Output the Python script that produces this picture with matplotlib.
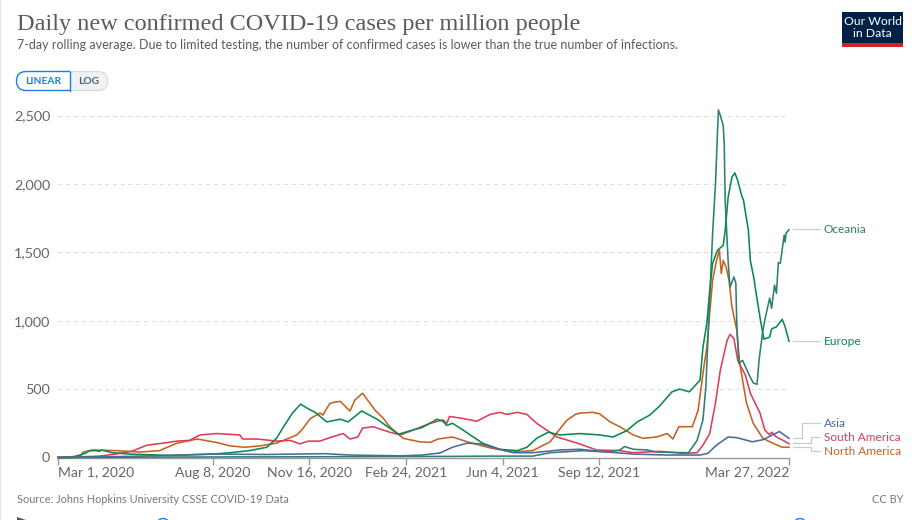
import matplotlib
matplotlib.use("Agg")
import matplotlib.pyplot as plt
import pandas as pd
from matplotlib.patches import FancyBboxPatch, Rectangle, Circle, Polygon

# ---- data (day offset from 2020-03-01, cases per million) ----
START = pd.Timestamp("2020-03-01")

na_days = [0,23,26,36,61,85,105,123,144,164,178,193,209,226,247,252,261,271,274,281,286,292,299,302,307,315,328,336,343,357,374,385,393,408,423,447,470,491,509,517,526,535,540,553,560,571,581,595,605,619,630,636,642,656,662,667,671,674,677,681,684,686,688,691,694,697,702,705,712,719,729,739,749,756]
na_vals = [0,10,40,55,50,40,50,105,135,110,85,75,85,105,165,200,285,325,310,395,405,410,360,340,420,470,345,290,225,140,115,110,135,150,115,70,40,50,115,190,270,315,325,330,320,260,225,165,140,150,175,135,225,225,345,615,805,1055,1295,1440,1515,1345,1440,1390,1295,1100,930,690,400,250,140,105,75,75]

sa_days = [0,43,59,76,92,109,123,136,147,164,188,191,206,226,240,250,259,271,281,295,302,310,315,326,343,354,367,385,398,402,405,419,433,447,457,464,475,485,495,516,537,557,581,595,623,646,661,667,674,680,685,692,695,699,703,711,716,726,731,736,738,743,750,756]
sa_vals = [0,10,25,45,90,105,120,125,165,175,165,135,135,120,125,100,120,120,145,175,135,150,215,225,185,165,200,250,275,250,300,285,265,315,330,315,330,315,250,150,105,55,50,35,45,30,35,90,175,400,640,855,900,870,710,600,470,325,200,165,185,150,125,100]

asia_days = [0,74,160,216,276,302,354,377,395,408,423,437,454,471,491,519,540,560,595,630,664,672,681,693,702,718,729,739,746,751,756]
asia_vals = [0,8,25,22,28,18,12,18,33,75,105,100,65,35,35,55,60,45,25,18,18,30,90,150,145,115,130,165,190,165,140]

oc_days = [0,95,250,405,447,491,509,543,568,581,586,595,609,619,652,661,667,670,673,677,680,682,683,685,688,689,690,693,695,699,701,702,704,708,714,719,723,725,729,731,736,738,741,743,745,747,751,752,753,756]
oc_vals = [0,3,5,8,10,10,35,50,40,55,80,60,55,40,35,125,275,515,1000,1640,2005,2370,2540,2500,2425,2295,1880,1440,1245,1320,1275,980,690,710,615,545,535,710,930,1005,1165,1090,1260,1200,1425,1420,1625,1575,1640,1665]

eu_days = [0,14,28,33,39,43,45,56,74,116,160,178,198,216,226,233,243,251,259,266,278,292,300,314,330,343,352,364,377,392,398,402,408,419,439,457,475,485,495,507,519,540,560,574,588,599,612,622,635,643,653,664,667,671,674,677,682,688,690,693,697,700,703,707,709,711,714,716,720,721,726,730,736,738,743,749,752,756]
eu_vals = [0,0,30,50,50,45,55,35,25,15,25,35,50,75,140,222,330,390,355,330,260,280,260,340,280,215,170,195,220,280,265,235,250,200,105,60,50,75,140,185,165,175,165,150,195,260,310,375,480,500,480,565,805,980,1220,1420,1515,1550,1660,1900,2050,2080,2025,1915,1880,1790,1660,1440,1300,1245,1025,865,880,940,955,1010,955,850]

y_ticks = [0, 500, 1000, 1500, 2000, 2500]
x_tick_labels = ["Mar 1, 2020", "Aug 8, 2020", "Nov 16, 2020", "Feb 24, 2021", "Jun 4, 2021", "Sep 12, 2021", "Mar 27, 2022"]

C_NA, C_SA, C_ASIA, C_OC, C_EU = "#c8611f", "#dc3e5a", "#4c6a9c", "#2f7f72", "#0a8a4d"
C_TXT = "#666666"
SANS = "Lato"

W, H = 918, 520
fig = plt.figure(figsize=(W/100, H/100), dpi=100, facecolor="white")

# chart axes placed by pixel box
L, R, T, B = 58, 789, 115.5, 457.5
ax = fig.add_axes([L/W, 1-B/H, (R-L)/W, (B-T)/H])
ax.set_xlim(0, 756)
ax.set_ylim(0, 2500)
ax.patch.set_alpha(0)
for s in ["top", "right", "left"]:
    ax.spines[s].set_visible(False)
ax.spines["bottom"].set_color("#999999")
ax.spines["bottom"].set_linewidth(1.0)

ax.set_yticks(y_ticks)
ax.set_yticklabels([f"{v:,}" for v in y_ticks], fontsize=10.4, color=C_TXT, family=SANS)
ax.tick_params(axis="y", length=0, pad=5.5)
for v in y_ticks[1:]:
    ax.axhline(v, color="#dddddd", lw=0.8, ls=(0, (3.5, 3.5)), zorder=1)

x_pos = [(pd.to_datetime(s) - START).days for s in x_tick_labels]
ax.set_xticks(x_pos)
ax.set_xticklabels(x_tick_labels, fontsize=10.1, color=C_TXT, family=SANS)
ax.tick_params(axis="x", length=5, width=1, color="#999999", pad=1.5)
labs = ax.get_xticklabels()
labs[0].set_ha("left")
labs[-1].set_ha("right")

for d, v, c in [(na_days, na_vals, C_NA), (sa_days, sa_vals, C_SA), (oc_days, oc_vals, C_OC),
                (eu_days, eu_vals, C_EU), (asia_days, asia_vals, C_ASIA)]:
    ax.plot(d, v, color=c, lw=1.15, clip_on=False, zorder=3, solid_joinstyle="round")

# overlay in pixel coordinates for page furniture
ov = fig.add_axes([0, 0, 1, 1])
ov.set_xlim(0, W)
ov.set_ylim(H, 0)
ov.axis("off")
ov.patch.set_alpha(0)

ov.add_patch(Rectangle((0, 0), 1.3, H, color="#e2e2e2", lw=0))

ov.text(17, 24.5, "Daily new confirmed COVID-19 cases per million people", family="Liberation Serif",
        fontsize=17.45, color="#5b5b5b", va="center", ha="left")
ov.text(17, 45, "7-day rolling average. Due to limited testing, the number of confirmed cases is lower than the true number of infections.",
        family=SANS, fontsize=9.02, color="#5b5b5b", va="center", ha="left")

# logo
ov.add_patch(Rectangle((842, 12), 61, 31, color="#002147", lw=0))
ov.add_patch(Rectangle((842, 43), 61, 4, color="#ce261e", lw=0))
ov.text(872.5, 27.5, "Our World\nin Data", family=SANS, fontsize=8.8, color="white", ha="center", va="center", linespacing=1.05)

# linear / log toggle
log_btn = FancyBboxPatch((60, 71.5), 47.5, 19, boxstyle="round,pad=0,rounding_size=9.5", fc="#f0f1f3", ec="#d9dbdf", lw=0.9)
ov.add_patch(log_btn)
lin_btn = FancyBboxPatch((16.5, 71.5), 70, 19, boxstyle="round,pad=0,rounding_size=9.5", fc="white", ec="#1a7fe8", lw=1.0)
ov.add_patch(lin_btn)
lin_btn.set_clip_path(Rectangle((15, 70), 55, 22, transform=ov.transData))
ov.plot([69.7, 69.7], [71.5, 90.5], color="#1a7fe8", lw=1.0)
ov.text(42.8, 81.5, "LINEAR", family=SANS, fontsize=7.4, color="#1a7fe8", weight="bold", ha="center", va="center")
ov.text(89, 81.5, "LOG", family=SANS, fontsize=7.4, color="#4a5e80", weight="bold", ha="center", va="center")

# series labels with connectors
label_x = 824
series_labels = [("Oceania", 229, C_OC, [(793, 229), (820, 229)]),
                 ("Europe", 341, C_EU, [(793, 341), (820, 341)]),
                 ("Asia", 423, C_ASIA, [(793, 438), (802, 438), (802, 423), (820, 423)]),
                 ("South America", 437, C_SA, [(793, 443), (811, 443), (811, 437), (820, 437)]),
                 ("North America", 451, C_NA, [(793, 447), (811, 447), (811, 451), (820, 451)])]
for name, y, c, pts in series_labels:
    ov.plot([p[0] for p in pts], [p[1] for p in pts], color="#cccccc", lw=0.9, solid_joinstyle="miter")
    ov.text(label_x, y + 0.7, name, family=SANS, fontsize=8.6, color=c, ha="left", va="center")

# footer
ov.text(17, 499.5, "Source: Johns Hopkins University CSSE COVID-19 Data", family=SANS, fontsize=7.9, color="#777777", ha="left", va="center")
ov.text(903, 499.5, "CC BY", family=SANS, fontsize=7.9, color="#777777", ha="right", va="center")

# clipped timeline handles at bottom edge
for cx in (163, 800):
    ov.add_patch(Circle((cx, 525), 6.5, fc="white", ec="#1a7fe8", lw=1.0, clip_on=True))
ov.add_patch(Polygon([(17, 520), (17, 517), (26, 520)], closed=True, color="#555555", lw=0))

fig.savefig("out.png", dpi=100, facecolor="white")
